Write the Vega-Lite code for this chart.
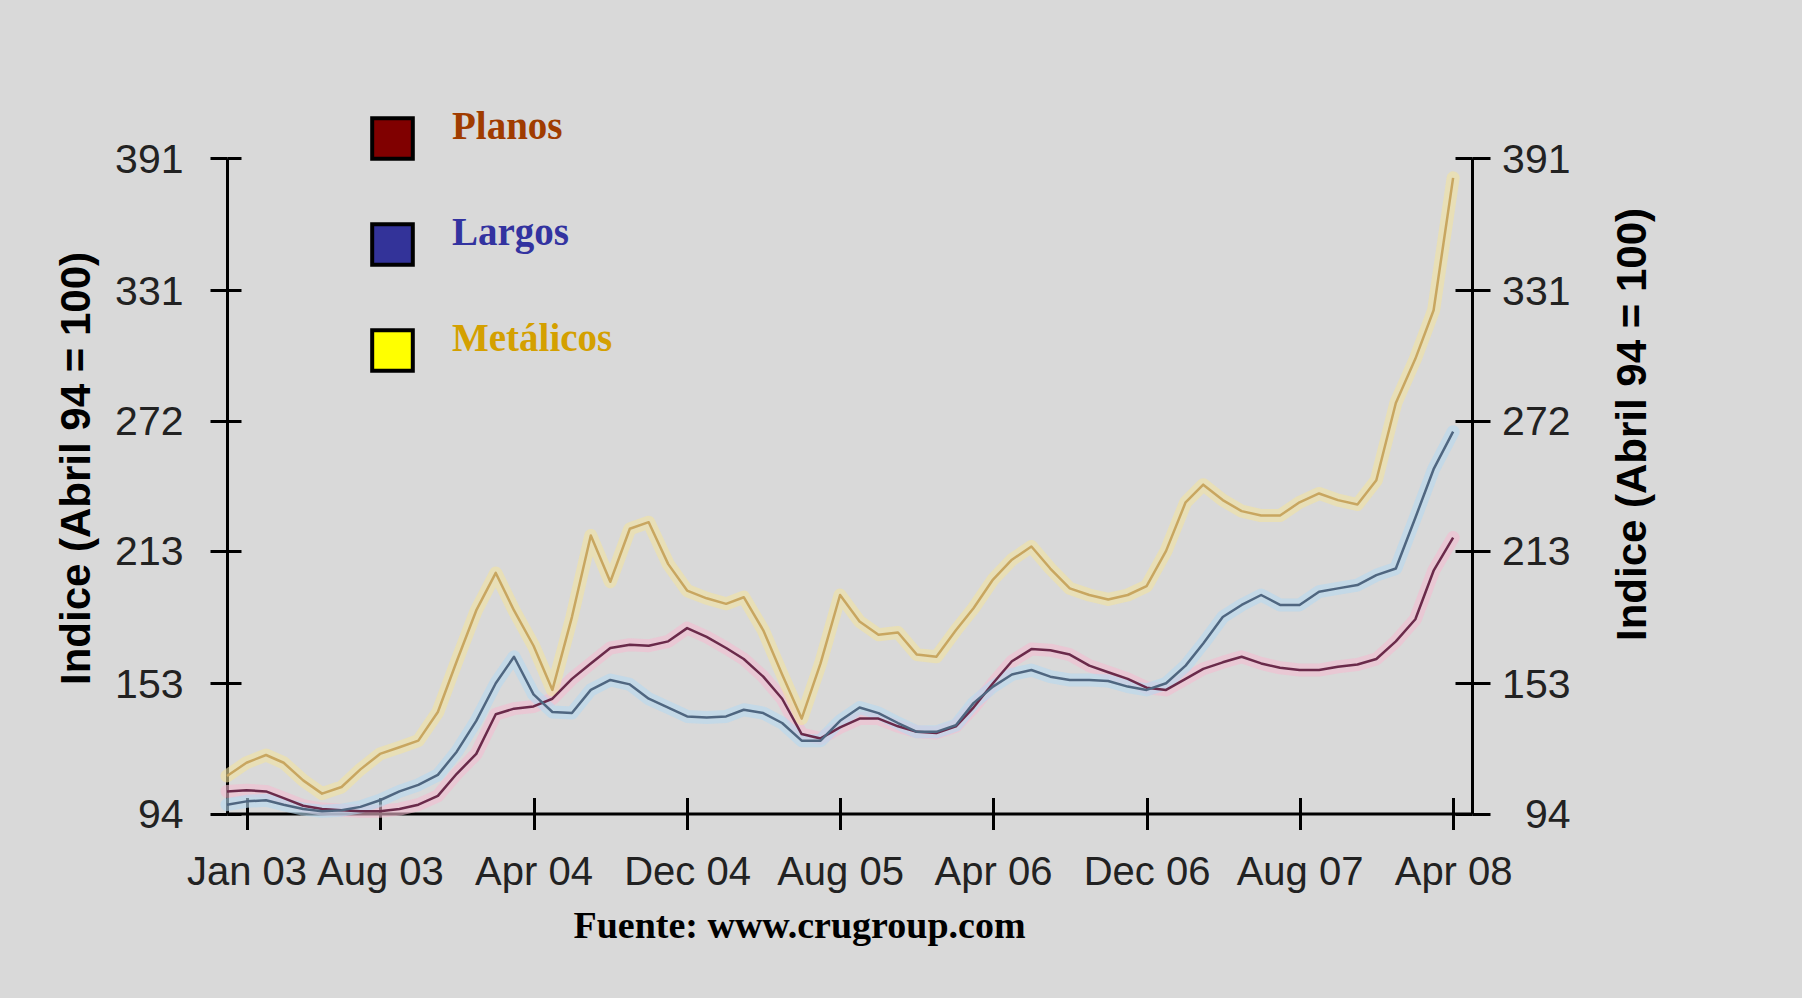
{
  "$schema": "https://vega.github.io/schema/vega-lite/v6.json",
  "width": 1245,
  "height": 655.5,
  "autosize": {"type": "none"},
  "padding": {"left": 227, "top": 158, "right": 330, "bottom": 184.5},
  "background": "#d9d9d9",
  "config": {
    "view": {"stroke": null},
    "axis": {
      "grid": false,
      "domainColor": "black",
      "domainWidth": 3,
      "tickColor": "black",
      "tickWidth": 3,
      "labelColor": "#222222",
      "labelFont": "Liberation Sans",
      "labelOverlap": false,
      "labelFlush": false,
      "labelLimit": 400
    }
  },
  "data": {
    "values": [
      {"mes": "2002-12-01", "Planos": 104, "Largos": 98, "Metálicos": 111},
      {"mes": "2003-01-01", "Planos": 104.5, "Largos": 99.5, "Metálicos": 117},
      {"mes": "2003-02-01", "Planos": 104, "Largos": 100, "Metálicos": 120.5},
      {"mes": "2003-03-01", "Planos": 101, "Largos": 98, "Metálicos": 117},
      {"mes": "2003-04-01", "Planos": 97.5, "Largos": 96, "Metálicos": 109},
      {"mes": "2003-05-01", "Planos": 96, "Largos": 95, "Metálicos": 103},
      {"mes": "2003-06-01", "Planos": 95.5, "Largos": 95.5, "Metálicos": 106},
      {"mes": "2003-07-01", "Planos": 95, "Largos": 97, "Metálicos": 114},
      {"mes": "2003-08-01", "Planos": 95, "Largos": 100, "Metálicos": 121},
      {"mes": "2003-09-01", "Planos": 96, "Largos": 104, "Metálicos": 124},
      {"mes": "2003-10-01", "Planos": 98, "Largos": 107, "Metálicos": 127},
      {"mes": "2003-11-01", "Planos": 102, "Largos": 111.5, "Metálicos": 140},
      {"mes": "2003-12-01", "Planos": 112, "Largos": 122, "Metálicos": 163},
      {"mes": "2004-01-01", "Planos": 121, "Largos": 136, "Metálicos": 186},
      {"mes": "2004-02-01", "Planos": 139, "Largos": 153, "Metálicos": 203},
      {"mes": "2004-03-01", "Planos": 141.5, "Largos": 165, "Metálicos": 186},
      {"mes": "2004-04-01", "Planos": 142.5, "Largos": 148, "Metálicos": 170},
      {"mes": "2004-05-01", "Planos": 146, "Largos": 140, "Metálicos": 150},
      {"mes": "2004-06-01", "Planos": 155, "Largos": 139.5, "Metálicos": 183},
      {"mes": "2004-07-01", "Planos": 162, "Largos": 150, "Metálicos": 220},
      {"mes": "2004-08-01", "Planos": 169, "Largos": 154.5, "Metálicos": 199},
      {"mes": "2004-09-01", "Planos": 170.5, "Largos": 152.5, "Metálicos": 223},
      {"mes": "2004-10-01", "Planos": 170, "Largos": 146, "Metálicos": 226},
      {"mes": "2004-11-01", "Planos": 172, "Largos": 142, "Metálicos": 207},
      {"mes": "2004-12-01", "Planos": 178, "Largos": 138, "Metálicos": 195},
      {"mes": "2005-01-01", "Planos": 174, "Largos": 137.5, "Metálicos": 191.5},
      {"mes": "2005-02-01", "Planos": 169, "Largos": 138, "Metálicos": 189},
      {"mes": "2005-03-01", "Planos": 164, "Largos": 141, "Metálicos": 192},
      {"mes": "2005-04-01", "Planos": 156, "Largos": 139.5, "Metálicos": 177},
      {"mes": "2005-05-01", "Planos": 146, "Largos": 135, "Metálicos": 157},
      {"mes": "2005-06-01", "Planos": 130, "Largos": 127, "Metálicos": 137},
      {"mes": "2005-07-01", "Planos": 128, "Largos": 127, "Metálicos": 162},
      {"mes": "2005-08-01", "Planos": 133, "Largos": 136, "Metálicos": 193},
      {"mes": "2005-09-01", "Planos": 137, "Largos": 142, "Metálicos": 181},
      {"mes": "2005-10-01", "Planos": 137, "Largos": 139.5, "Metálicos": 175},
      {"mes": "2005-11-01", "Planos": 133.5, "Largos": 135, "Metálicos": 176},
      {"mes": "2005-12-01", "Planos": 131, "Largos": 131, "Metálicos": 166},
      {"mes": "2006-01-01", "Planos": 130.5, "Largos": 131, "Metálicos": 165},
      {"mes": "2006-02-01", "Planos": 133.5, "Largos": 134, "Metálicos": 177},
      {"mes": "2006-03-01", "Planos": 142, "Largos": 144, "Metálicos": 187},
      {"mes": "2006-04-01", "Planos": 153, "Largos": 151.5, "Metálicos": 200},
      {"mes": "2006-05-01", "Planos": 163, "Largos": 157, "Metálicos": 209},
      {"mes": "2006-06-01", "Planos": 168.5, "Largos": 159, "Metálicos": 215},
      {"mes": "2006-07-01", "Planos": 168, "Largos": 156, "Metálicos": 205},
      {"mes": "2006-08-01", "Planos": 166, "Largos": 154.5, "Metálicos": 196},
      {"mes": "2006-09-01", "Planos": 161, "Largos": 154.5, "Metálicos": 193},
      {"mes": "2006-10-01", "Planos": 158, "Largos": 154, "Metálicos": 191},
      {"mes": "2006-11-01", "Planos": 155, "Largos": 151.5, "Metálicos": 193},
      {"mes": "2006-12-01", "Planos": 151, "Largos": 150, "Metálicos": 197},
      {"mes": "2007-01-01", "Planos": 150, "Largos": 153, "Metálicos": 213},
      {"mes": "2007-02-01", "Planos": 155, "Largos": 161, "Metálicos": 235},
      {"mes": "2007-03-01", "Planos": 159.5, "Largos": 171, "Metálicos": 243},
      {"mes": "2007-04-01", "Planos": 162.5, "Largos": 183, "Metálicos": 236},
      {"mes": "2007-05-01", "Planos": 165, "Largos": 188.5, "Metálicos": 231},
      {"mes": "2007-06-01", "Planos": 162, "Largos": 193, "Metálicos": 229},
      {"mes": "2007-07-01", "Planos": 160, "Largos": 188.5, "Metálicos": 229},
      {"mes": "2007-08-01", "Planos": 159, "Largos": 188.5, "Metálicos": 235},
      {"mes": "2007-09-01", "Planos": 159, "Largos": 194.5, "Metálicos": 239},
      {"mes": "2007-10-01", "Planos": 160.5, "Largos": 196, "Metálicos": 236},
      {"mes": "2007-11-01", "Planos": 161.5, "Largos": 197.5, "Metálicos": 234},
      {"mes": "2007-12-01", "Planos": 164, "Largos": 202, "Metálicos": 245},
      {"mes": "2008-01-01", "Planos": 172, "Largos": 205, "Metálicos": 280},
      {"mes": "2008-02-01", "Planos": 182, "Largos": 228, "Metálicos": 300},
      {"mes": "2008-03-01", "Planos": 204, "Largos": 250, "Metálicos": 322},
      {"mes": "2008-04-01", "Planos": 219, "Largos": 267, "Metálicos": 382}
    ]
  },
  "transform": [
    {"fold": ["Planos", "Largos", "Metálicos"], "as": ["serie", "indice"]}
  ],
  "layer": [
    {
      "mark": {"type": "line", "strokeWidth": 13, "opacity": 0.6, "strokeJoin": "round", "strokeCap": "round"},
      "encoding": {
        "x": {
          "field": "mes", "type": "temporal",
          "scale": {"type": "utc", "domain": [{"year": 2002, "month": 12, "date": 1, "utc": true}, {"year": 2008, "month": 5, "date": 1, "utc": true}]},
          "axis": {
            "orient": "bottom",
            "values": [
              {"year": 2003, "month": 1, "date": 1, "utc": true},
              {"year": 2003, "month": 8, "date": 1, "utc": true},
              {"year": 2004, "month": 4, "date": 1, "utc": true},
              {"year": 2004, "month": 12, "date": 1, "utc": true},
              {"year": 2005, "month": 8, "date": 1, "utc": true},
              {"year": 2006, "month": 4, "date": 1, "utc": true},
              {"year": 2006, "month": 12, "date": 1, "utc": true},
              {"year": 2007, "month": 8, "date": 1, "utc": true},
              {"year": 2008, "month": 4, "date": 1, "utc": true}
            ],
            "labelExpr": "utcFormat(datum.value, '%b %y')",
            "tickSize": 16,
            "labelFontSize": 40,
            "labelBaseline": "alphabetic",
            "labelAlign": "center",
            "labelPadding": 55,
            "title": "Fuente: www.crugroup.com",
            "titleFont": "Liberation Serif",
            "titleFontSize": 38,
            "titleFontWeight": "bold",
            "titleColor": "black",
            "titleX": 572,
            "titleY": 124,
            "titleAlign": "center",
            "titleBaseline": "alphabetic"
          }
        },
        "y": {
          "field": "indice", "type": "quantitative",
          "scale": {"domain": [94, 391], "nice": false, "zero": false},
          "axis": {
            "orient": "left",
            "values": [94, 153, 213, 272, 331, 391],
            "tickSize": 17,
            "labelPadding": 27,
            "labelAlign": "right",
            "labelBaseline": "middle",
            "labelOffset": 2,
            "labelFontSize": 41,
            "title": "Indice (Abril 94 = 100)",
            "titleFont": "Liberation Sans",
            "titleFontSize": 42,
            "titleFontWeight": "bold",
            "titleColor": "black",
            "titleAngle": 270,
            "titleX": -138,
            "titleY": 310,
            "titleAlign": "center",
            "titleBaseline": "alphabetic"
          }
        },
        "stroke": {
          "field": "serie", "type": "nominal",
          "scale": {"domain": ["Planos", "Largos", "Metálicos"], "range": ["#f4bdd0", "#b6d9f0", "#f1e2a0"]},
          "legend": null
        }
      }
    },
    {
      "mark": {"type": "line", "strokeWidth": 2.5, "strokeJoin": "round"},
      "encoding": {
        "x": {
          "field": "mes", "type": "temporal",
          "scale": {"type": "utc", "domain": [{"year": 2002, "month": 12, "date": 1, "utc": true}, {"year": 2008, "month": 5, "date": 1, "utc": true}]},
          "axis": {
            "orient": "bottom",
            "values": [
              {"year": 2003, "month": 1, "date": 1, "utc": true},
              {"year": 2003, "month": 8, "date": 1, "utc": true},
              {"year": 2004, "month": 4, "date": 1, "utc": true},
              {"year": 2004, "month": 12, "date": 1, "utc": true},
              {"year": 2005, "month": 8, "date": 1, "utc": true},
              {"year": 2006, "month": 4, "date": 1, "utc": true},
              {"year": 2006, "month": 12, "date": 1, "utc": true},
              {"year": 2007, "month": 8, "date": 1, "utc": true},
              {"year": 2008, "month": 4, "date": 1, "utc": true}
            ],
            "tickSize": -16,
            "labels": false,
            "domain": false,
            "title": null
          }
        },
        "y": {
          "field": "indice", "type": "quantitative",
          "scale": {"domain": [94, 391], "nice": false, "zero": false},
          "axis": {
            "orient": "right",
            "values": [94, 153, 213, 272, 331, 391],
            "tickSize": 18,
            "labelPadding": 80,
            "labelAlign": "right",
            "labelBaseline": "middle",
            "labelOffset": 2,
            "labelFontSize": 41,
            "title": "Indice (Abril 94 = 100)",
            "titleFont": "Liberation Sans",
            "titleFontSize": 42,
            "titleFontWeight": "bold",
            "titleColor": "black",
            "titleAngle": 270,
            "titleX": 173,
            "titleY": 266,
            "titleAlign": "center",
            "titleBaseline": "alphabetic"
          }
        },
        "stroke": {
          "field": "serie", "type": "nominal",
          "scale": {"domain": ["Planos", "Largos", "Metálicos"], "range": ["#6a2a4a", "#4f6680", "#c8a660"]},
          "legend": null
        }
      }
    },
    {
      "mark": {"type": "point", "shape": "square", "filled": true, "opacity": 0},
      "encoding": {
        "x": {
          "field": "mes", "type": "temporal",
          "scale": {"type": "utc", "domain": [{"year": 2002, "month": 12, "date": 1, "utc": true}, {"year": 2008, "month": 5, "date": 1, "utc": true}]},
          "axis": null
        },
        "y": {
          "field": "indice", "type": "quantitative",
          "scale": {"domain": [94, 391], "nice": false, "zero": false},
          "axis": {
            "orient": "left",
            "values": [94, 153, 213, 272, 331, 391],
            "tickSize": -14,
            "labels": false,
            "domain": false,
            "title": null
          }
        },
        "fill": {
          "field": "serie", "type": "nominal",
          "scale": {"domain": ["Planos", "Largos", "Metálicos"], "range": ["#800000", "#333399", "#ffff00"]},
          "legend": {
            "orient": "none",
            "legendX": 143,
            "legendY": -42,
            "title": null,
            "direction": "vertical",
            "padding": 0,
            "symbolType": "square",
            "symbolSize": 1650,
            "symbolStrokeColor": "black",
            "symbolStrokeWidth": 4,
            "symbolOpacity": 1,
            "labelFont": "Liberation Serif",
            "labelFontWeight": "bold",
            "labelFontSize": 39,
            "labelBaseline": "alphabetic",
            "labelOffset": 37,
            "labelLimit": 400,
            "rowPadding": 46,
            "labelColor": {"expr": "datum.label == 'Planos' ? '#a03c00' : datum.label == 'Largos' ? '#3333a0' : '#d4a000'"}
          }
        }
      }
    },
    {
      "mark": {"type": "point", "opacity": 0},
      "encoding": {
        "x": {
          "field": "mes", "type": "temporal",
          "scale": {"type": "utc", "domain": [{"year": 2002, "month": 12, "date": 1, "utc": true}, {"year": 2008, "month": 5, "date": 1, "utc": true}]},
          "axis": null
        },
        "y": {
          "field": "indice", "type": "quantitative",
          "scale": {"domain": [94, 391], "nice": false, "zero": false},
          "axis": {
            "orient": "right",
            "values": [94, 153, 213, 272, 331, 391],
            "tickSize": -17,
            "labels": false,
            "domain": false,
            "title": null
          }
        }
      }
    }
  ],
  "resolve": {
    "scale": {"stroke": "independent", "fill": "independent"},
    "axis": {"x": "independent", "y": "independent"}
  }
}
